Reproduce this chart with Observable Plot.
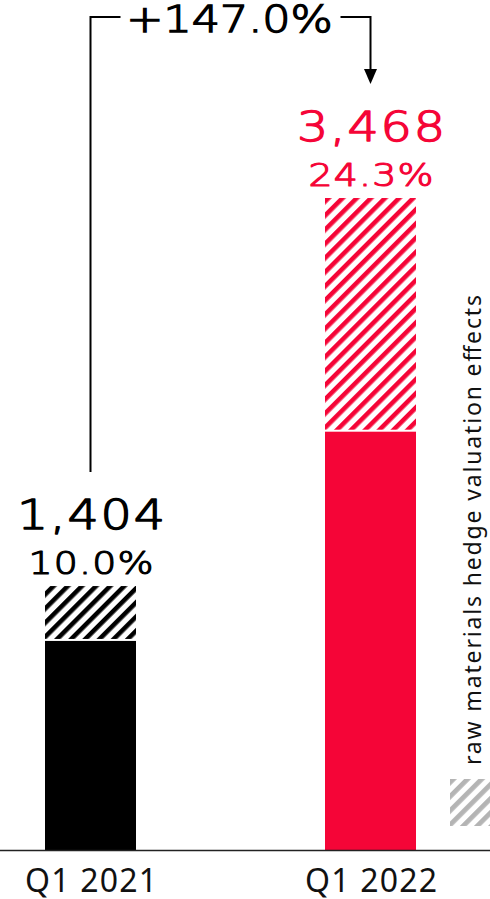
<!DOCTYPE html>
<html><head><meta charset="utf-8">
<script src="https://cdn.jsdelivr.net/npm/d3@7"></script>
<script src="https://cdn.jsdelivr.net/npm/@observablehq/plot@0.6"></script>
<style>
body{margin:0;background:#fff;}
#wrap{position:relative;width:490px;height:899px;overflow:hidden;}
#legend{position:absolute;left:440px;top:280px;}
</style></head><body>
<div id="wrap">
<svg id="legend" width="50" height="560">
  <defs>
    <pattern id="hatch-black" patternUnits="userSpaceOnUse" width="10" height="10" patternTransform="rotate(45)">
      <rect width="10" height="10" fill="#fff"/><rect width="4.6" height="10" fill="#000"/>
    </pattern>
    <pattern id="hatch-red" patternUnits="userSpaceOnUse" width="10" height="10" patternTransform="rotate(45)">
      <rect width="10" height="10" fill="#fff"/><rect width="4.6" height="10" fill="#f50537"/>
    </pattern>
    <pattern id="hatch-gray" patternUnits="userSpaceOnUse" width="10" height="10" patternTransform="rotate(45)">
      <rect width="10" height="10" fill="#fff"/><rect width="4.8" height="10" fill="#b4b4b4"/>
    </pattern>
  </defs>
  <rect x="10" y="499" width="40" height="47" fill="url(#hatch-gray)"/>
  <text id="legendText" transform="translate(41,485) rotate(-90)" font-family="Noto Sans" font-size="23" fill="#111" textLength="470" lengthAdjust="spacing"></text>
</svg>
</div>
<script>
// ---- data ----
const quarters = ["Q1 2021", "Q1 2022"];
const operatingResult = [1112, 2225];   // solid part
const hedgeEffects = [292, 1243];       // hatched part
const totals = [1404, 3468];
const totalLabels = ["1,404", "3,468"];
const marginLabels = ["10.0%", "24.3%"];
const growthLabel = "+147.0%";
const legendLabel = "raw materials hedge valuation effects";

// ---- styles ----
const solidColor = {"Q1 2021": "#000000", "Q1 2022": "#f50537"};
const hatchFill = {"Q1 2021": "url(#hatch-black)", "Q1 2022": "url(#hatch-red)"};
const WIDE = 1.2; // horizontal stretch to mimic the extended typeface
const WEIGHT_STROKE = 1.4;

document.getElementById("legendText").textContent = legendLabel;

const solidRows = quarters.map((q, i) => ({quarter: q, y1: 0, y2: operatingResult[i]}));
const hedgeRows = quarters.map((q, i) => ({quarter: q, y1: operatingResult[i], y2: operatingResult[i] + hedgeEffects[i]}));
const labelRows = quarters.map((q, i) => ({quarter: q, total: totals[i], totalLabel: totalLabels[i], margin: marginLabels[i]}));

const bracket = (index, scales) => {
  const x = scales.x, y = scales.y;
  const bw = x.bandwidth ? x.bandwidth() : 0;
  const x1 = x(quarters[0]) + bw / 2;
  const x2 = x(quarters[1]) + bw / 2;
  const mid = (x1 + x2) / 2;
  const top = 17, gap = 110, off = 114, head = 15;
  const yStart = y(totals[0]) - off;
  const yEnd = y(totals[1]) - off;
  const g = d3.create("svg:g");
  g.append("path")
    .attr("d", `M${x1},${yStart}V${top}H${mid - gap}M${mid + gap},${top}H${x2}V${yEnd - head}`)
    .attr("fill", "none").attr("stroke", "#000").attr("stroke-width", 2);
  g.append("path")
    .attr("d", `M${x2 - 6.5},${yEnd - head}L${x2 + 6.5},${yEnd - head}L${x2},${yEnd}Z`)
    .attr("fill", "#000");
  g.append("text")
    .attr("transform", `translate(${mid - 1},${top + 15}) scale(${WIDE},1)`)
    .attr("text-anchor", "middle")
    .attr("font-family", "DejaVu Sans").attr("font-size", 37)
    .attr("font-weight", 200)
    .attr("fill", "#000").attr("stroke", "#000").attr("stroke-width", WEIGHT_STROKE)
    .text(growthLabel);
  return g.node();
};

const chart = Plot.plot({
  width: 490, height: 899,
  marginLeft: 0, marginRight: 0, marginTop: 0, marginBottom: 49,
  style: {background: "transparent", overflow: "visible"},
  x: {domain: quarters, range: [0, 461.5], paddingInner: 0.676, paddingOuter: 0.1604, axis: null},
  y: {domain: [0, 4000], range: [850, 98], axis: null},
  color: {type: "identity"},
  marks: [
    Plot.barY(solidRows, {x: "quarter", y1: "y1", y2: "y2", fill: d => solidColor[d.quarter]}),
    Plot.barY(hedgeRows, {x: "quarter", y1: "y1", y2: "y2", fill: d => hatchFill[d.quarter], insetBottom: 2}),
    Plot.ruleY([0], {stroke: "#222", strokeWidth: 1.5}),
    Plot.text(labelRows, {x: "quarter", y: "total", text: "totalLabel", dy: -58, dx: 0, lineAnchor: "bottom",
      fontSize: 41, fontFamily: "DejaVu Sans", fontWeight: 200,
      fill: d => solidColor[d.quarter], stroke: d => solidColor[d.quarter], strokeWidth: WEIGHT_STROKE}),
    Plot.text(labelRows, {x: "quarter", y: "total", text: "margin", dy: -12.5, dx: 0, lineAnchor: "bottom",
      fontSize: 31.5, fontFamily: "DejaVu Sans", fontWeight: 200,
      fill: d => solidColor[d.quarter], stroke: d => solidColor[d.quarter], strokeWidth: WEIGHT_STROKE * 0.85}),
    Plot.text(quarters, {x: d => d, y: d => 0, text: d => d, dy: 41, lineAnchor: "bottom",
      fontSize: 32, fontFamily: "Noto Sans", fill: "#111"}),
    bracket
  ]
});

d3.select(chart).selectAll("g[aria-label='text']").each(function() {
  const fs = this.getAttribute("font-size");
  let ls = null;
  if (fs === "41") ls = 1.5;
  else if (fs === "31.5") ls = 1;
  else if (fs === "32") ls = 1.2;
  if (ls === null) return;
  this.setAttribute("letter-spacing", ls);
  const stretch = fs === "32" ? 1 : WIDE;
  d3.select(this).selectAll("text").each(function() {
    const t = this.getAttribute("transform") || "";
    this.setAttribute("transform", `${t} translate(${ls * stretch / 2},0) scale(${stretch},1)`);
  });
});

const wrap = document.getElementById("wrap");
wrap.insertBefore(chart, wrap.firstChild);
</script>
</body></html>
